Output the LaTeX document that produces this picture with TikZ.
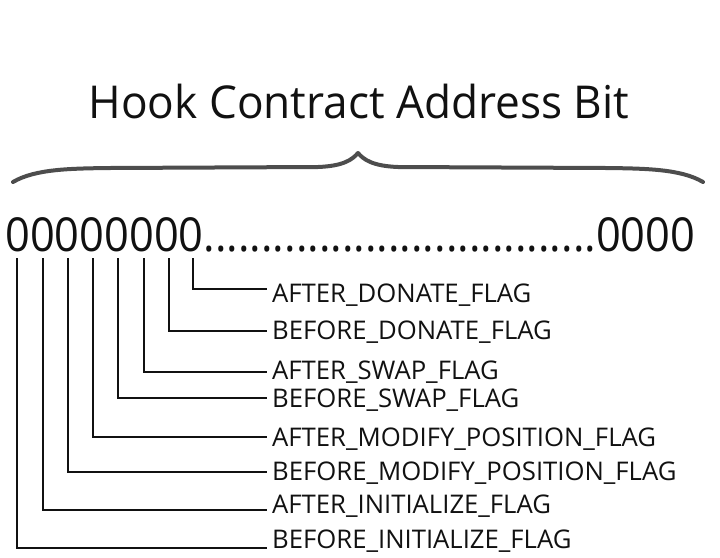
\documentclass[tikz,border=0pt]{standalone}
\usepackage{fontspec}
\setmainfont{Open Sans}
\definecolor{bracegray}{HTML}{4D4D4D}
\definecolor{ink}{HTML}{111111}
\begin{document}
\begin{tikzpicture}[x=1pt,y=-1pt,
  conn/.style={line width=1.8pt, ink},
  flag/.style={anchor=west, inner xsep=5pt, inner ysep=0pt, text=ink,
    font=\fontsize{25.7}{28}\selectfont},
  bracestyle/.style={line width=4pt, bracegray, line cap=round, line join=round}]
\useasboundingbox (0,0) rectangle (720,557);
% title
\node[anchor=base, inner sep=0pt, text=ink] (title) at (359,118)
  {\scalebox{0.975}[1]{\fontsize{45.3}{50}\selectfont Hook Contract Address Bit}};
% brace
\draw[bracestyle] (13,182) .. controls (35,169) and (70,168.5) .. (110,168)
  -- (318,167) .. controls (343,166) and (352,160) .. (358,153)
  .. controls (364,160) and (373,166) .. (398,167)
  -- (606,168) .. controls (646,168.5) and (681,169) .. (703,182);
% bits
\node[anchor=base west, inner sep=0pt, text=ink] (bits) at (5,251)
  {\scalebox{0.927}[1]{\fontsize{46.8}{50}\selectfont 00000000..................................0000}};
\coordinate (b1) at (17.3,258);
\coordinate (b2) at (42.7,258);
\coordinate (b3) at (67.7,258);
\coordinate (b4) at (92.7,258);
\coordinate (b5) at (118,258);
\coordinate (b6) at (144,258);
\coordinate (b7) at (169,258);
\coordinate (b8) at (192.7,258);
% labels
\node[flag] (l1) at (267,295.5) {AFTER\_DONATE\_FLAG};
\node[flag] (l2) at (267,332.5) {BEFORE\_DONATE\_FLAG};
\node[flag] (l3) at (267,372.5) {AFTER\_SWAP\_FLAG};
\node[flag] (l4) at (267,400.5) {BEFORE\_SWAP\_FLAG};
\node[flag] (l5) at (267,439.5) {AFTER\_MODIFY\_POSITION\_FLAG};
\node[flag] (l6) at (267,473.5) {BEFORE\_MODIFY\_POSITION\_FLAG};
\node[flag] (l7) at (267,506.5) {AFTER\_INITIALIZE\_FLAG};
\node[flag] (l8) at (267,541.5) {BEFORE\_INITIALIZE\_FLAG};
% connectors
\draw[conn] (b8) |- ([yshift=6.2pt]l1.west);
\draw[conn] (b7) |- ([yshift=1.8pt]l2.west);
\draw[conn] (b6) |- ([yshift=0.8pt]l3.west);
\draw[conn] (b5) |- ([yshift=2.2pt]l4.west);
\draw[conn] (b4) |- ([yshift=2.8pt]l5.west);
\draw[conn] (b3) |- ([yshift=1.8pt]l6.west);
\draw[conn] (b2) |- ([yshift=-3.5pt]l7.west);
\draw[conn] (b1) |- ([yshift=-6.8pt]l8.west);
\end{tikzpicture}
\end{document}
